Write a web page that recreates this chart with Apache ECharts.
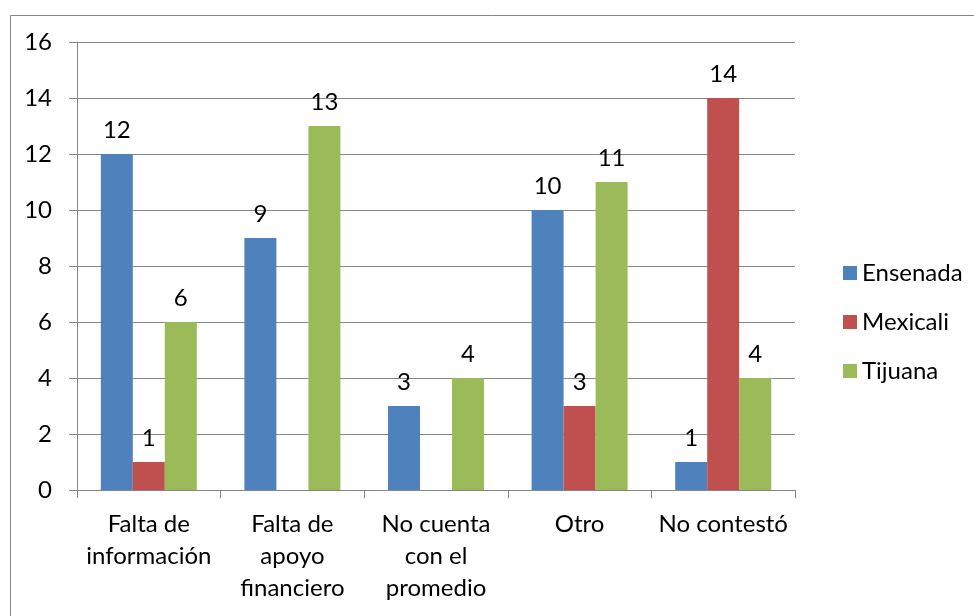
<!DOCTYPE html>
<html>
<head>
<meta charset="utf-8">
<script src="https://cdn.jsdelivr.net/npm/echarts@6/dist/echarts.min.js"></script>
<style>html,body{margin:0;padding:0;background:#fff;}#c{width:974px;height:616px;}</style>
</head>
<body>
<div id="c"></div>
<script>
var categories = ["Falta de\ninformación", "Falta de\napoyo\nfinanciero", "No cuenta\ncon el\npromedio", "Otro", "No contestó"];
var seriesNames = ["Ensenada", "Mexicali", "Tijuana"];
var ensenada = [12, 9, 3, 10, 1];
var mexicali = [1, 0, 0, 3, 14];
var tijuana = [6, 13, 4, 11, 4];
var yTicks = [0, 2, 4, 6, 8, 10, 12, 14, 16];

var colors = ["#4F81BD", "#C0504D", "#9BBB59"];
var FONT = "Lato";
var FS = 24;
var chart = echarts.init(document.getElementById('c'));
function mk(name, data, color) {
  return {
    name: name, type: 'bar', data: data, barWidth: 32, barGap: '0%',
    itemStyle: { color: color },
    label: {
      show: true, position: 'top', distance: 12,
      fontFamily: FONT, fontSize: FS, color: '#000',
      formatter: function (p) { return p.value > 0 ? String(p.value) : ''; }
    }
  };
}
chart.setOption({
  animation: false,
  graphic: [{
    type: 'rect', left: 8, top: 13, silent: true,
    shape: { width: 1000, height: 700 },
    style: { fill: 'none', stroke: '#868686', lineWidth: 1 }
  }],
  grid: { left: 77, right: 179, top: 42, bottom: 126 },
  legend: {
    orient: 'vertical', left: 838, top: 256,
    icon: 'rect', itemWidth: 14, itemHeight: 14, itemGap: 25, itemTextGap: 9,
    textStyle: { fontFamily: FONT, fontSize: FS, color: '#000', lineHeight: 24 },
    data: seriesNames
  },
  xAxis: {
    type: 'category', data: categories,
    axisLine: { lineStyle: { color: '#868686' } },
    axisTick: { show: true, length: 8, lineStyle: { color: '#868686' } },
    axisLabel: { fontFamily: FONT, fontSize: FS, color: '#000', lineHeight: 32, margin: 18, interval: 0 }
  },
  yAxis: {
    type: 'value', min: yTicks[0], max: yTicks[yTicks.length - 1], interval: 2,
    axisLine: { show: true, lineStyle: { color: '#868686' } },
    axisTick: { show: true, length: 8, lineStyle: { color: '#868686' } },
    splitLine: { show: true, lineStyle: { color: '#868686', width: 1 } },
    axisLabel: { fontFamily: FONT, fontSize: FS, color: '#000', margin: 25 }
  },
  series: [
    mk(seriesNames[0], ensenada, colors[0]),
    mk(seriesNames[1], mexicali, colors[1]),
    mk(seriesNames[2], tijuana, colors[2])
  ]
});
</script>
</body>
</html>
